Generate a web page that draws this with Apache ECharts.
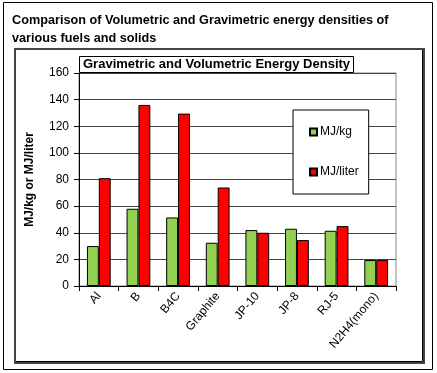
<!DOCTYPE html>
<html><head><meta charset="utf-8">
<script src="https://cdn.jsdelivr.net/npm/echarts@6/dist/echarts.min.js"></script>
<style>html,body{margin:0;padding:0;background:#fff}#c{width:437px;height:373px}</style>
</head><body><div id="c"></div>
<script>
const categories = ['Al','B','B4C','Graphite','JP-10','JP-8','RJ-5','N2H4(mono)'];
const mjPerKg = [30, 58, 51.5, 32.5, 42, 43, 41.5, 19.5];
const mjPerLiter = [81, 136, 129.5, 74, 40, 34.5, 45, 19.5];
const yTicks = [0, 160, 20];

const chart = echarts.init(document.getElementById('c'), null, {renderer:'canvas'});
const sans = '"Liberation Sans", Arial, sans-serif';
chart.setOption({
  animation:false,
  backgroundColor:'#fff',
  graphic:[
    {type:'rect', shape:{x:3.5,y:2.5,width:429,height:367}, style:{fill:'none',stroke:'#000',lineWidth:1}},
    {type:'rect', shape:{x:15,y:49,width:409,height:314}, style:{fill:'none',stroke:'#444',lineWidth:2}},
    {type:'rect', shape:{x:14.5,y:48.5,width:408,height:313}, style:{fill:'#fff',stroke:'#000',lineWidth:1}, z:-1},
    {type:'text', x:12, y:11, scaleX:0.975, style:{text:'Comparison of Volumetric and Gravimetric energy densities of\nvarious fuels and solids', font:'bold 13px '+sans, fill:'#000', lineHeight:18}}
  ],
  title:{
    text:'Gravimetric and Volumetric Energy Density',
    left:79, top:56,
    padding:[1,4,1,4],
    borderColor:'#000', borderWidth:1,
    backgroundColor:'#fff',
    textStyle:{fontFamily:sans, fontWeight:'bold', fontSize:13, lineHeight:15, color:'#000'}
  },
  legend:{
    orient:'vertical',
    left:293, top:110, width:86, height:86,
    padding:[16,10,16,16],
    itemGap:28,
    itemWidth:7, itemHeight:7,
    icon:'rect',
    borderColor:'#000', borderWidth:1, backgroundColor:'#fff',
    textStyle:{fontFamily:sans, fontSize:12, color:'#000', padding:[0,0,0,-2]},
    data:['MJ/kg','MJ/liter']
  },
  grid:{left:79, top:73, right:41, bottom:87, show:true, borderColor:'#888', borderWidth:1, backgroundColor:'#fff'},
  xAxis:{
    type:'category', data:categories, boundaryGap:true,
    axisLine:{lineStyle:{color:'#000'}},
    axisTick:{show:true, length:5, lineStyle:{color:'#000'}},
    axisLabel:{rotate:50, fontFamily:sans, fontSize:12, color:'#000', margin:8, interval:0}
  },
  yAxis:{
    type:'value', min:yTicks[0], max:yTicks[1], interval:yTicks[2],
    name:'MJ/kg or MJ/liter', nameLocation:'middle', nameGap:43, nameRotate:90,
    nameTextStyle:{fontFamily:sans, fontWeight:'bold', fontSize:12, color:'#000'},
    axisLine:{show:true, lineStyle:{color:'#000'}},
    axisTick:{show:true, length:5, lineStyle:{color:'#000'}},
    axisLabel:{fontFamily:sans, fontSize:12, color:'#000', margin:10},
    splitLine:{lineStyle:{color:'#444', width:1}}
  },
  series:[
    {name:'MJ/kg', type:'bar', data:mjPerKg, barGap:'0%', barCategoryGap:'40%',
     itemStyle:{color:'#92D050', borderColor:'#000', borderWidth:1}},
    {name:'MJ/liter', type:'bar', data:mjPerLiter, barGap:'0%', barCategoryGap:'40%',
     itemStyle:{color:'#FF0000', borderColor:'#000', borderWidth:1}}
  ]
});
</script></body></html>
